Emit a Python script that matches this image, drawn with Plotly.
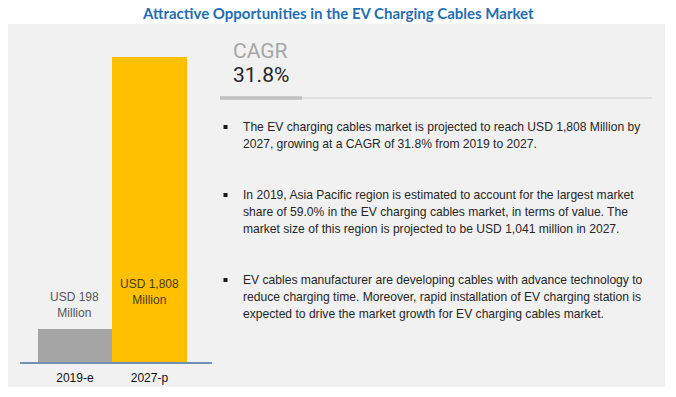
import plotly.graph_objects as go

W, H = 676, 397

# ---- data ----
categories = ["2019-e", "2027-p"]
market_values = [198, 1808]          # USD Million
bar_colors = ["#A5A5A5", "#FFC000"]
label_colors = ["#555555", "#4A3A14"]
title_text = "Attractive Opportunities in the EV Charging Cables Market"
cagr_label = "CAGR"
cagr_value = "31.8%"
bullets = [
    ["The EV charging cables market is projected to reach USD 1,808 Million by",
     "2027, growing at a CAGR of 31.8% from 2019 to 2027."],
    ["In 2019, Asia Pacific region is estimated to account for the largest market",
     "share of 59.0% in the EV charging cables market, in terms of value. The",
     "market size of this region is projected to be USD 1,041 million in 2027."],
    ["EV cables manufacturer are developing cables with advance technology to",
     "reduce charging time. Moreover, rapid installation of EV charging station is",
     "expected to drive the market growth for EV charging cables market."],
]


def px(x):
    return x / W


def py(y):
    return 1 - y / H


SANS = "Liberation Sans, Arial, sans-serif"

fig = go.Figure()
fig.add_trace(go.Bar(
    x=[0, 1], y=market_values,
    marker=dict(color=bar_colors, line=dict(width=0)),
    width=1.0, hoverinfo="skip",
))

shapes = []
# grey panel
shapes.append(dict(type="rect", xref="paper", yref="paper",
                   x0=px(8), x1=px(665), y0=py(387), y1=py(24),
                   fillcolor="#F1F1F1", line=dict(width=0), layer="below"))
# CAGR separator
shapes.append(dict(type="line", xref="paper", yref="paper",
                   x0=px(220), x1=px(652), y0=py(98), y1=py(98),
                   line=dict(color="#D9D9D9", width=1.5)))
shapes.append(dict(type="line", xref="paper", yref="paper",
                   x0=px(220), x1=px(302), y0=py(98), y1=py(98),
                   line=dict(color="#BFBFBF", width=3.5)))

annotations = []
annotations.append(dict(text="<b>" + title_text + "</b>", xref="paper", yref="paper",
                        x=px(338), y=py(13), xanchor="center", yanchor="middle",
                        showarrow=False,
                        font=dict(family="Lato, Open Sans, sans-serif", size=15, color="#1F6EB3")))
annotations.append(dict(text=cagr_label, xref="paper", yref="paper",
                        x=px(231), y=py(51), xanchor="left", yanchor="middle",
                        showarrow=False,
                        font=dict(family="Roboto, sans-serif", size=21, color="#A6A6A6")))
annotations.append(dict(text=cagr_value, xref="paper", yref="paper",
                        x=px(231), y=py(75), xanchor="left", yanchor="middle",
                        showarrow=False,
                        font=dict(family="Roboto, sans-serif", size=21, color="#262626")))

# bar value labels
label_y = [[297, 313], [284, 299]]
for i, v in enumerate(market_values):
    annotations.append(dict(text=f"USD {v:,}<br>Million", xref="x", yref="paper",
                            x=i, y=py((label_y[i][0] + label_y[i][1]) / 2),
                            xanchor="center", yanchor="middle", showarrow=False,
                            font=dict(family=SANS, size=12, color=label_colors[i])))

# bullets
bullet_start = [127, 195, 280]
for b, lines in enumerate(bullets):
    y0 = bullet_start[b]
    shapes.append(dict(type="rect", xref="paper", yref="paper",
                       x0=px(223.5), x1=px(227.5), y0=py(y0 - 2), y1=py(y0 + 2),
                       fillcolor="#1A1A1A", line=dict(width=0)))
    for j, line in enumerate(lines):
        annotations.append(dict(text=line, xref="paper", yref="paper",
                                x=px(241), y=py(y0 + 17 * j), xanchor="left", yanchor="middle",
                                showarrow=False,
                                font=dict(family=SANS, size=12.1, color="#262626")))

fig.update_layout(
    width=W, height=H,
    margin=dict(l=0, r=0, t=0, b=0),
    paper_bgcolor="white", plot_bgcolor="rgba(0,0,0,0)",
    showlegend=False, bargap=0,
    shapes=shapes, annotations=annotations,
    xaxis=dict(domain=[px(20), px(212)], range=[-0.738, 1.84],
               tickmode="array", tickvals=[0, 1], ticktext=categories,
               showgrid=False, zeroline=False, showline=True,
               linecolor="#6F8FB5", linewidth=1.5, ticks="",
               ticklabelstandoff=4,
               tickfont=dict(family=SANS, size=12, color="#111111"),
               fixedrange=True),
    yaxis=dict(domain=[py(362), py(24.6)], range=[0, 2000],
               visible=False, showgrid=False, zeroline=False, fixedrange=True),
)

fig.write_html("out.html", config={"displayModeBar": False},
               post_script="document.body.style.margin='0';document.body.style.overflow='hidden';")
